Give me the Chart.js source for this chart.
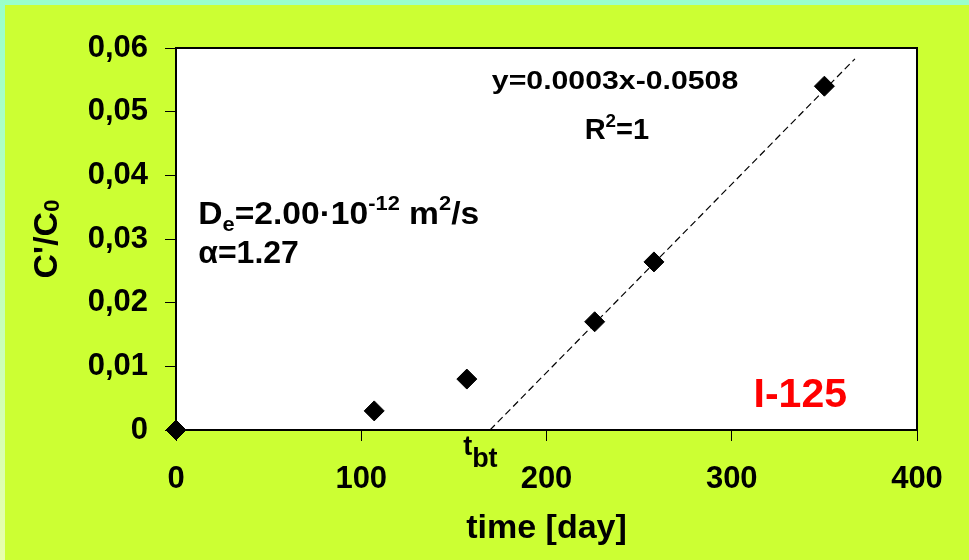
<!DOCTYPE html>
<html>
<head>
<meta charset="utf-8">
<script src="https://cdn.jsdelivr.net/npm/chart.js@4.4.1/dist/chart.umd.min.js"></script>
<style>
  html, body { margin: 0; padding: 0; background: #ccff33; }
  #wrap { width: 969px; height: 560px; }
</style>
</head>
<body>
<div id="wrap"><canvas id="scatterChart" width="969" height="560"></canvas></div>
<script>
// measured points (time in days, C'/C0)
var timeDays = [0, 107, 157, 226, 258, 350];
var concRatio = [0, 0.003, 0.008, 0.017, 0.0264, 0.054];

// trendline end points, as drawn on the plot
var trendTime = [169.5, 366.5];
var trendConc = [0, 0.0583];

var xTicks = [0, 100, 200, 300, 400];
var yTicks = [0, 0.01, 0.02, 0.03, 0.04, 0.05, 0.06];

var FONT = '"Liberation Sans", Arial, sans-serif';

function toPoints(xs, ys) {
    return xs.map(function(x, i) { return { x: x, y: ys[i] }; });
}

// draws text with sub/superscript pieces: parts = [[text, 'n'|'sub'|'sup'], ...]
function drawRich(ctx, parts, x, y, size, align, stretch, subScale, subDrop) {
    stretch = stretch || 1;
    subScale = subScale || 0.65;
    subDrop = subDrop || 0.22;
    var sizeOf = function(p) { return p[1] === 'n' ? size : size * subScale; };
    var widths = parts.map(function(p) {
        ctx.font = 'bold ' + sizeOf(p) + 'px ' + FONT;
        return ctx.measureText(p[0]).width;
    });
    var total = widths.reduce(function(a, b) { return a + b; }, 0);
    ctx.save();
    ctx.translate(x, y);
    ctx.scale(stretch, 1);
    var cx = align === 'center' ? -total / 2 : 0;
    ctx.textAlign = 'left';
    ctx.textBaseline = 'alphabetic';
    parts.forEach(function(p, i) {
        var dy = p[1] === 'sub' ? size * subDrop : (p[1] === 'sup' ? -size * 0.42 : 0);
        ctx.font = 'bold ' + sizeOf(p) + 'px ' + FONT;
        ctx.fillText(p[0], cx, dy);
        cx += widths[i];
    });
    ctx.restore();
}

var backdrop = {
    id: 'backdrop',
    beforeDraw: function(chart) {
        var ctx = chart.ctx, a = chart.chartArea;
        ctx.save();
        ctx.fillStyle = '#99ffcc';
        ctx.fillRect(0, 0, chart.width, chart.height);
        var g = ctx.createLinearGradient(0, 0, 0, chart.height);
        g.addColorStop(0, '#99ffcc');
        g.addColorStop(1, '#e8ffaa');
        ctx.fillStyle = g;
        ctx.fillRect(0, 0, 5, chart.height);
        ctx.fillStyle = '#ccff33';
        ctx.fillRect(5, 5, chart.width - 5, chart.height - 5);
        ctx.fillStyle = '#ffffff';
        ctx.fillRect(a.left, a.top, a.right - a.left, a.bottom - a.top);
        ctx.restore();
    },
    afterDatasetsDraw: function(chart) {
        var ctx = chart.ctx, a = chart.chartArea;
        var xs = chart.scales.x, ys = chart.scales.y;
        ctx.save();
        ctx.strokeStyle = '#000';
        ctx.lineWidth = 2;
        ctx.strokeRect(a.left, a.top, a.right - a.left, a.bottom - a.top);

        ctx.fillStyle = '#000';
        // regression equation
        drawRich(ctx, [['y=0.0003x-0.0508', 'n']], xs.getPixelForValue(237), ys.getPixelForValue(0.0535), 25, 'center', 1.21);
        drawRich(ctx, [['R', 'n'], ['2', 'sup'], ['=1', 'n']], xs.getPixelForValue(238), ys.getPixelForValue(0.0457), 29, 'center');
        // fitted parameters
        drawRich(ctx, [['D', 'n'], ['e', 'sub'], ['=2.00\u00b710', 'n'], ['-12', 'sup'], [' m', 'n'], ['2', 'sup'], ['/s', 'n']],
            xs.getPixelForValue(12), ys.getPixelForValue(0.0324), 32, 'left', 1.05);
        drawRich(ctx, [['\u03b1=1.27', 'n']], xs.getPixelForValue(12), ys.getPixelForValue(0.0262), 32, 'left');
        // breakthrough time label
        drawRich(ctx, [['t', 'n'], ['bt', 'sub']], xs.getPixelForValue(155), ys.getPixelForValue(-0.0040), 27, 'left', 1, 1, 0.44);
        // isotope
        ctx.fillStyle = '#ff0000';
        drawRich(ctx, [['I-125', 'n']], xs.getPixelForValue(337), ys.getPixelForValue(0.0036), 41, 'center');

        // axis titles
        ctx.fillStyle = '#000';
        drawRich(ctx, [['time [day]', 'n']], (a.left + a.right) / 2, 538, 34, 'center');
        ctx.translate(57, (a.top + a.bottom) / 2);
        ctx.rotate(-Math.PI / 2);
        drawRich(ctx, [['C\'/C', 'n'], ['0', 'sub']], 0, 0, 34, 'center', 1, 0.65, 0.05);
        ctx.restore();
    }
};

var ctx = document.getElementById('scatterChart').getContext('2d');
var myChart = new Chart(ctx, {
    type: 'scatter',
    data: {
        datasets: [{
            label: 'measured',
            data: toPoints(timeDays, concRatio),
            pointStyle: 'rectRot',
            pointRadius: 10,
            backgroundColor: '#000',
            borderColor: '#000',
            borderWidth: 1,
            clip: false,
            order: 0
        }, {
            label: 'trend',
            type: 'line',
            data: toPoints(trendTime, trendConc),
            borderColor: '#000',
            borderWidth: 1.2,
            borderDash: [7, 4],
            pointRadius: 0,
            fill: false,
            order: 1
        }]
    },
    options: {
        responsive: false,
        animation: false,
        layout: { padding: { top: 48, right: 52, left: 0, bottom: 0 } },
        plugins: {
            legend: { display: false },
            tooltip: { enabled: false }
        },
        scales: {
            x: {
                type: 'linear',
                min: 0,
                max: 400,
                afterBuildTicks: function(s) { s.ticks = xTicks.map(function(v) { return { value: v }; }); },
                afterFit: function(s) { s.height = 130; },
                grid: { drawOnChartArea: false, tickLength: 11, color: '#000', tickColor: '#000' },
                border: { display: false },
                ticks: { color: '#000', padding: 20, maxRotation: 0, font: { family: FONT, size: 31, weight: 'bold' } }
            },
            y: {
                type: 'linear',
                min: 0,
                max: 0.06,
                afterBuildTicks: function(s) { s.ticks = yTicks.map(function(v) { return { value: v }; }); },
                afterFit: function(s) { s.width = 176; },
                grid: { drawOnChartArea: false, tickLength: 11, color: '#000', tickColor: '#000' },
                border: { display: false },
                ticks: {
                    color: '#000', padding: 17,
                    font: { family: FONT, size: 31, weight: 'bold' },
                    callback: function(v) { return v === 0 ? '0' : v.toFixed(2).replace('.', ','); }
                }
            }
        }
    },
    plugins: [backdrop]
});
</script>
</body>
</html>
